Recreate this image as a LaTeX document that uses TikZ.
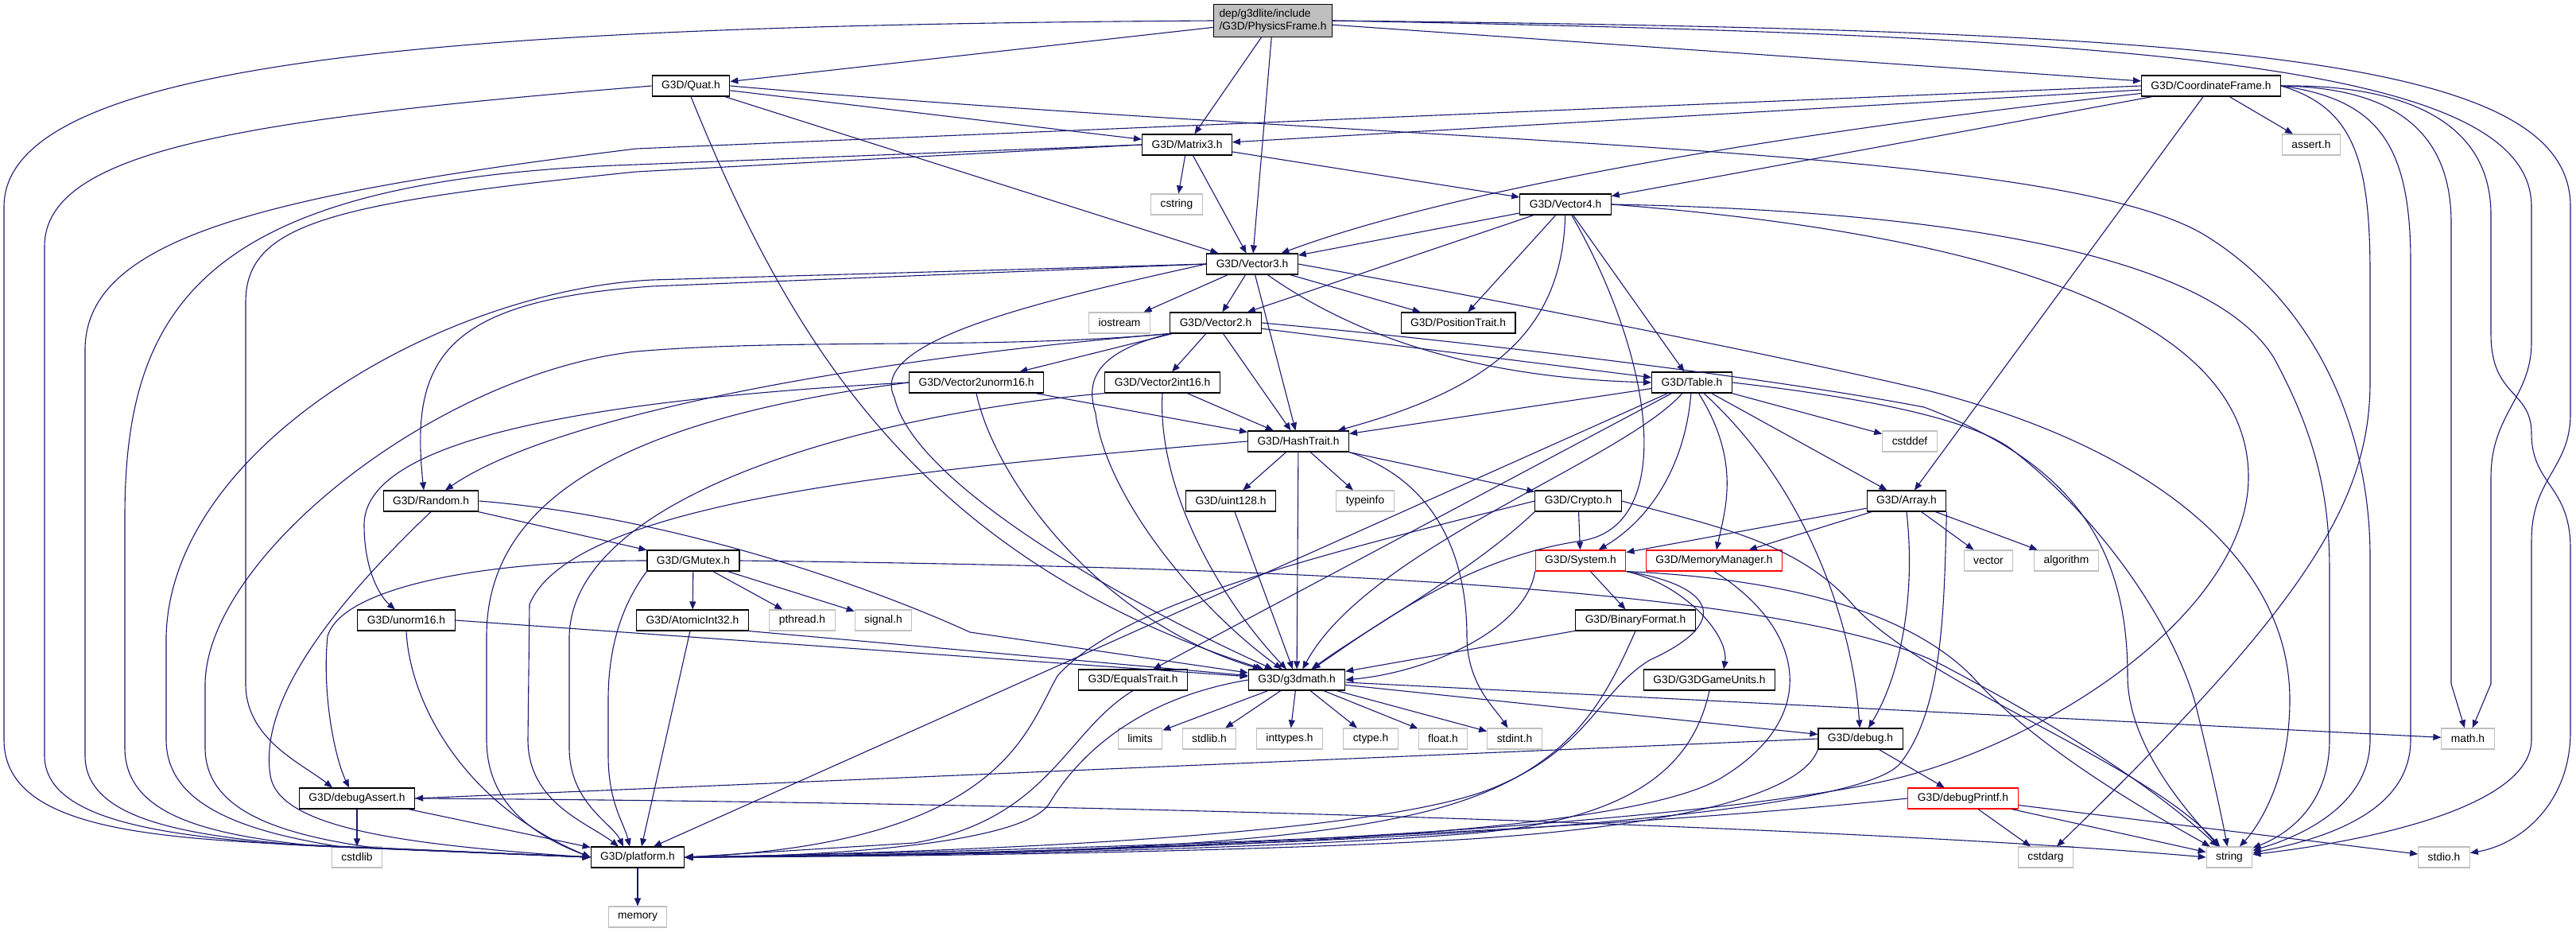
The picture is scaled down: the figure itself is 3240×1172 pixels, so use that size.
\documentclass[tikz,border=0pt]{standalone}
\usepackage{fontspec}
\setmainfont{Liberation Sans}
\usetikzlibrary{arrows.meta}
\definecolor{edgeblue}{HTML}{191970}
\definecolor{sysgray}{HTML}{BFBFBF}
\begin{document}
\begin{tikzpicture}[
    x=1pt, y=-1pt,
    file/.style={draw=black, line width=1.1pt, fill=white,
        minimum height=26pt, inner xsep=12pt, inner ysep=0pt,
        font=\fontsize{13.8}{15.5}\selectfont},
    sysfile/.style={file, draw=sysgray},
    redfile/.style={file, draw=red},
    rootfile/.style={file, fill=sysgray, align=left, minimum height=41pt, inner xsep=7pt},
    dep/.style={draw=edgeblue, line width=1.1pt, -{Triangle[length=10pt,width=8pt]}}
]
    \useasboundingbox (0,0) rectangle (3240,1172);
    \node[rootfile] (pf) at (1601,26) {dep/g3dlite/include\\/G3D/PhysicsFrame.h};
    \node[file] (quat) at (869,108) {G3D/Quat.h};
    \node[file] (coord) at (2781,108) {G3D/CoordinateFrame.h};
    \node[file] (matrix) at (1493,182) {G3D/Matrix3.h};
    \node[sysfile] (assert) at (2907,182) {assert.h};
    \node[sysfile] (cstring) at (1480,257) {cstring};
    \node[file] (vecfour) at (1969,257) {G3D/Vector4.h};
    \node[file] (vecthree) at (1575,332) {G3D/Vector3.h};
    \node[sysfile] (iostream) at (1408,406) {iostream};
    \node[file] (vectwo) at (1529,406) {G3D/Vector2.h};
    \node[file] (postrait) at (1834,406) {G3D/PositionTrait.h};
    \node[file] (vtwounorm) at (1228,481) {G3D/Vector2unorm16.h};
    \node[file] (vtwoint) at (1462,481) {G3D/Vector2int16.h};
    \node[file] (table) at (2128,481) {G3D/Table.h};
    \node[file] (hash) at (1633,555) {G3D/HashTrait.h};
    \node[sysfile] (cstddef) at (2402,555) {cstddef};
    \node[file] (random) at (542,630) {G3D/Random.h};
    \node[file] (uint) at (1548,630) {G3D/uint128.h};
    \node[sysfile] (typeinfo) at (1717,630) {typeinfo};
    \node[file] (crypto) at (1985,630) {G3D/Crypto.h};
    \node[file] (array) at (2398,630) {G3D/Array.h};
    \node[file] (gmutex) at (872,705) {G3D/GMutex.h};
    \node[redfile] (system) at (1988,705) {G3D/System.h};
    \node[redfile] (memmgr) at (2156,705) {G3D/MemoryManager.h};
    \node[sysfile] (vector) at (2501,705) {vector};
    \node[sysfile] (algorithm) at (2599,705) {algorithm};
    \node[file] (unorm) at (511,780) {G3D/unorm16.h};
    \node[file] (atomic) at (871,780) {G3D/AtomicInt32.h};
    \node[sysfile] (pthread) at (1009,780) {pthread.h};
    \node[sysfile] (signal) at (1111,780) {signal.h};
    \node[file] (binfmt) at (2057,780) {G3D/BinaryFormat.h};
    \node[file] (equals) at (1425,855) {G3D/EqualsTrait.h};
    \node[file] (g3dmath) at (1631,855) {G3D/g3dmath.h};
    \node[file] (gameunits) at (2150,855) {G3D/G3DGameUnits.h};
    \node[sysfile] (limits) at (1434,929) {limits};
    \node[sysfile] (stdlib) at (1521,929) {stdlib.h};
    \node[sysfile] (inttypes) at (1622,929) {inttypes.h};
    \node[sysfile] (ctype) at (1724,929) {ctype.h};
    \node[sysfile] (float) at (1815,929) {float.h};
    \node[sysfile] (stdint) at (1905,929) {stdint.h};
    \node[file] (debug) at (2340,929) {G3D/debug.h};
    \node[sysfile] (math) at (3104,929) {math.h};
    \node[file] (dassert) at (449,1004) {G3D/debugAssert.h};
    \node[redfile] (dprintf) at (2469,1004) {G3D/debugPrintf.h};
    \node[sysfile] (cstdlib) at (449,1078) {cstdlib};
    \node[file] (platform) at (802,1078) {G3D/platform.h};
    \node[sysfile] (cstdarg) at (2573,1078) {cstdarg};
    \node[sysfile] (string) at (2804,1078) {string};
    \node[sysfile] (stdio) at (3074,1078) {stdio.h};
    \node[sysfile] (memory) at (802,1153) {memory};
    \draw[dep] (pf) -- (quat);
    \draw[dep] (pf) -- (matrix);
    \draw[dep] (pf) -- (vecthree);
    \draw[dep] (pf) -- (coord);
    \draw[dep] (pf.west) .. controls (600,32) and (5,70) .. (5,260) -- (5,930) .. controls (5,1030) and (150,1050) .. (330,1060) -- (platform.west);
    \draw[dep] (pf.east) .. controls (2700,45) and (3184,80) .. (3184,260) -- (3184,430) .. controls (3184,500) and (3133,520) .. (3133,600) -- (3133,860) -- (math);
    \draw[dep] (pf.east) .. controls (2800,38) and (3233,70) .. (3233,260) -- (3233,520) .. controls (3233,590) and (3184,600) .. (3184,680) -- (3184,930) .. controls (3184,1010) and (3000,1055) .. (string);
    \draw[dep] (quat) -- (matrix);
    \draw[dep] (quat) -- (vecthree);
    \draw[dep] (quat.south) .. controls (990,420) and (1150,700) .. (g3dmath);
    \draw[dep] (quat.west) .. controls (300,150) and (56,190) .. (56,310) -- (56,950) .. controls (56,1030) and (200,1050) .. (360,1062) -- (platform.west);
    \draw[dep] (quat.east) .. controls (1800,185) and (2600,180) .. (2780,300) .. controls (2920,390) and (2981,550) .. (2981,700) -- (2981,930) .. controls (2981,1010) and (2900,1050) .. (string);
    \draw[dep] (matrix) -- (cstring);
    \draw[dep] (matrix) -- (vecthree);
    \draw[dep] (matrix) -- (vecfour);
    \draw[dep] (matrix.west) -- (800,207) .. controls (260,225) and (157,380) .. (157,650) -- (157,940) .. controls (157,1025) and (260,1050) .. (400,1064) -- (platform.west);
    \draw[dep] (matrix.west) -- (800,216) .. controls (420,255) and (309,280) .. (309,380) -- (309,860) .. controls (309,930) and (380,960) .. ([xshift=-31pt]dassert.north);
    \draw[dep] (coord) -- (matrix);
    \draw[dep] (coord) .. controls (2300,160) and (1850,230) .. (vecthree);
    \draw[dep] (coord) -- (vecfour);
    \draw[dep] (coord) -- (array);
    \draw[dep] (coord) -- (assert);
    \draw[dep] (coord.west) -- (800,187) .. controls (330,245) and (107,300) .. (107,440) -- (107,950) .. controls (107,1030) and (230,1050) .. (380,1063) -- (platform.west);
    \draw[dep] (coord.east) .. controls (2990,110) and (3083,150) .. (3083,280) -- (3083,860) -- (math);
    \draw[dep] (coord.east) .. controls (3000,106) and (3133,140) .. (3133,270) -- (3133,420) .. controls (3133,500) and (3184,490) .. (3184,545) .. controls (3184,610) and (3233,610) .. (3233,690) -- (3233,920) .. controls (3233,1010) and (3170,1062) .. (stdio);
    \draw[dep] (coord.east) .. controls (2990,125) and (3032,180) .. (3032,330) -- (3032,930) .. controls (3032,1010) and (2950,1050) .. (string);
    \draw[dep] (coord.east) .. controls (2960,135) and (2981,200) .. (2981,345) -- (2981,480) .. controls (2981,630) and (2900,760) .. (cstdarg);
    \draw[dep] (vecfour) -- (vecthree);
    \draw[dep] (vecfour) -- (vectwo);
    \draw[dep] (vecfour) -- (postrait);
    \draw[dep] (vecfour) -- (table);
    \draw[dep] (vecfour) .. controls (1965,420) and (1870,490) .. (hash);
    \draw[dep] (vecfour) .. controls (2080,450) and (2110,660) .. (1990,680) .. controls (1850,700) and (1740,780) .. (g3dmath);
    \draw[dep] (vecfour.east) .. controls (2450,265) and (2780,320) .. (2860,450) .. controls (2920,560) and (2930,640) .. (2930,720) -- (2930,930) .. controls (2930,1010) and (2880,1048) .. (string);
    \draw[dep] (vecfour.east) .. controls (2450,290) and (2828,380) .. (2828,600) .. controls (2828,760) and (2600,920) .. (2400,975) .. controls (2200,1030) and (1500,1075) .. (platform.east);
    \draw[dep] (vecthree) -- (iostream);
    \draw[dep] (vecthree) -- (vectwo);
    \draw[dep] (vecthree) -- (postrait);
    \draw[dep] (vecthree) -- (hash);
    \draw[dep] (vecthree) .. controls (1700,420) and (1850,475) .. (table.west);
    \draw[dep] (vecthree.west) .. controls (1300,380) and (1090,430) .. (1125,500) .. controls (1150,610) and (1420,760) .. (g3dmath);
    \draw[dep] (vecthree.west) -- (820,352) .. controls (560,365) and (215,560) .. (209,800) -- (209,930) .. controls (209,1010) and (300,1045) .. (430,1065) -- (platform.west);
    \draw[dep] (vecthree.west) -- (820,360) .. controls (560,378) and (515,450) .. ([xshift=-9pt]random.north);
    \draw[dep] (vecthree.east) .. controls (1900,380) and (2250,450) .. (2420,490) .. controls (2700,560) and (2880,700) .. (2880,880) .. controls (2880,980) and (2840,1040) .. (string);
    \draw[dep] (vectwo) -- (table);
    \draw[dep] (vectwo) -- (hash);
    \draw[dep] (vectwo) -- (vtwoint);
    \draw[dep] (vectwo) -- (vtwounorm);
    \draw[dep] (vectwo.south west) .. controls (1390,440) and (1362,470) .. (1378,520) .. controls (1390,620) and (1500,760) .. (g3dmath);
    \draw[dep] (vectwo.south west) .. controls (1100,450) and (700,520) .. ([xshift=18pt]random.north);
    \draw[dep] (vectwo.south west) .. controls (1250,440) and (1000,425) .. (800,442) .. controls (550,470) and (260,700) .. (258,860) -- (258,940) .. controls (258,1015) and (340,1048) .. (470,1066) -- (platform.west);
    \draw[dep] (vectwo.east) .. controls (1800,425) and (2200,470) .. (2420,512) .. controls (2600,580) and (2676,680) .. (2676,850) .. controls (2676,930) and (2740,1010) .. (string);
    \draw[dep] (vtwoint) -- (hash);
    \draw[dep] (vtwoint.south) .. controls (1455,620) and (1540,760) .. (g3dmath);
    \draw[dep] (vtwoint.south west) .. controls (1100,520) and (720,620) .. (716,800) -- (716,940) .. controls (716,1010) and (770,1035) .. ([xshift=-18pt]platform.north);
    \draw[dep] (vtwounorm) -- (hash);
    \draw[dep] (vtwounorm.south) .. controls (1250,600) and (1380,780) .. (g3dmath);
    \draw[dep] (vtwounorm.west) .. controls (700,505) and (458,560) .. (458,660) .. controls (458,720) and (480,752) .. ([xshift=-14pt]unorm.north);
    \draw[dep] (vtwounorm.west) .. controls (760,530) and (612,640) .. (612,800) -- (612,930) .. controls (612,1010) and (670,1050) .. (platform.west);
    \draw[dep] (hash) -- (uint);
    \draw[dep] (hash) -- (typeinfo);
    \draw[dep] (hash) -- (crypto);
    \draw[dep] (hash) -- (g3dmath);
    \draw[dep] (hash.south east) .. controls (1820,610) and (1845,720) .. (1845,800) .. controls (1845,860) and (1880,890) .. (stdint);
    \draw[dep] (hash.west) .. controls (1150,590) and (720,630) .. (666,760) -- (664,930) .. controls (664,1010) and (740,1035) .. ([xshift=-24pt]platform.north);
    \draw[dep] (uint) -- (g3dmath);
    \draw[dep] (crypto) -- (system);
    \draw[dep] (crypto.south west) .. controls (1850,720) and (1720,790) .. (g3dmath);
    \draw[dep] (crypto.west) .. controls (1650,700) and (1410,760) .. (1330,850) .. controls (1290,920) and (1260,1060) .. (platform.east);
    \draw[dep] (crypto.east) .. controls (2150,660) and (2260,680) .. (2330,760) .. controls (2420,860) and (2700,960) .. (string);
    \draw[dep] (array) -- (vector);
    \draw[dep] (array) -- (algorithm);
    \draw[dep] (array) -- (memmgr);
    \draw[dep] (array) -- (system);
    \draw[dep] (array.south) .. controls (2410,750) and (2390,850) .. ([xshift=10pt]debug.north);
    \draw[dep] (array.south east) .. controls (2445,760) and (2445,890) .. (2390,960) .. controls (2330,1030) and (1700,1068) .. (platform.east);
    \draw[dep] (table) -- (hash);
    \draw[dep] (table) -- (cstddef);
    \draw[dep] (table) -- (array);
    \draw[dep] (table) -- (equals);
    \draw[dep] (table) -- ([xshift=20pt]platform.north);
    \draw[dep] (table) .. controls (2120,580) and (2080,650) .. (system);
    \draw[dep] (table) .. controls (2190,580) and (2170,640) .. (memmgr);
    \draw[dep] (table) .. controls (2270,610) and (2330,780) .. (debug);
    \draw[dep] (table) .. controls (2040,580) and (1720,690) .. (g3dmath);
    \draw[dep] (table.east) .. controls (2300,495) and (2470,520) .. (2530,565) .. controls (2640,650) and (2730,780) .. (2760,880) .. controls (2780,960) and (2795,1030) .. (string);
    \draw[dep] (random) -- (gmutex);
    \draw[dep] (random.south) .. controls (420,760) and (325,880) .. (340,975) .. controls (350,1040) and (500,1062) .. (platform.west);
    \draw[dep] (random.east) .. controls (850,650) and (1100,740) .. (1220,795) -- (g3dmath);
    \draw[dep] (gmutex) -- (atomic);
    \draw[dep] (gmutex) -- (pthread);
    \draw[dep] (gmutex) -- (signal);
    \draw[dep] (gmutex.west) .. controls (600,705) and (430,740) .. (412,800) .. controls (405,870) and (420,950) .. ([xshift=-10pt]dassert.north);
    \draw[dep] (gmutex.south west) .. controls (790,750) and (765,800) .. (765,880) -- (765,950) .. controls (765,1010) and (785,1035) .. ([xshift=-10pt]platform.north);
    \draw[dep] (gmutex.east) .. controls (1500,712) and (2250,730) .. (2450,840) .. controls (2620,930) and (2720,1000) .. (string);
    \draw[dep] (atomic) -- ([xshift=5pt]platform.north);
    \draw[dep] (atomic.south east) -- (g3dmath);
    \draw[dep] (unorm.east) -- (g3dmath);
    \draw[dep] (unorm.south) .. controls (515,880) and (580,1010) .. (platform.west);
    \draw[dep] (system) -- (binfmt);
    \draw[dep] (system.south east) .. controls (2120,735) and (2175,800) .. ([xshift=18pt]gameunits.north);
    \draw[dep] (system.south west) .. controls (1920,790) and (1800,845) .. (g3dmath.east);
    \draw[dep] (system.south east) .. controls (2250,728) and (2400,770) .. (2480,850) .. controls (2560,940) and (2700,1020) .. (string);
    \draw[dep] (system.south east) .. controls (2150,735) and (2185,780) .. (2075,830) .. controls (2010,870) and (2000,940) .. (1880,990) .. controls (1750,1045) and (1300,1070) .. (platform.east);
    \draw[dep] (memmgr.south) .. controls (2270,790) and (2290,900) .. (2170,975) .. controls (2060,1050) and (1500,1072) .. (platform.east);
    \draw[dep] (binfmt) -- (g3dmath);
    \draw[dep] (binfmt.south) .. controls (2010,900) and (1960,990) .. (1750,1030) .. controls (1550,1070) and (1200,1075) .. (platform.east);
    \draw[dep] (gameunits.south) .. controls (2130,960) and (2060,1030) .. (1850,1048) .. controls (1600,1068) and (1200,1076) .. (platform.east);
    \draw[dep] (equals.south) .. controls (1340,920) and (1320,1030) .. (1150,1060) -- (platform.east);
    \draw[dep] (g3dmath.west) .. controls (1420,880) and (1350,960) .. (1320,1010) .. controls (1290,1060) and (1050,1077) .. (platform.east);
    \draw[dep] (g3dmath) -- (limits);
    \draw[dep] (g3dmath) -- (stdlib);
    \draw[dep] (g3dmath) -- (inttypes);
    \draw[dep] (g3dmath) -- (ctype);
    \draw[dep] (g3dmath) -- (float);
    \draw[dep] (g3dmath) -- (stdint);
    \draw[dep] (g3dmath) -- (debug);
    \draw[dep] (g3dmath) -- (math);
    \draw[dep] (debug.west) -- (dassert.east);
    \draw[dep] (debug) -- (dprintf);
    \draw[dep] (debug.south west) .. controls (2270,990) and (2150,1035) .. (1850,1055) .. controls (1600,1070) and (1200,1077) .. (platform.east);
    \draw[dep] (dassert) -- (cstdlib);
    \draw[dep] (dassert) -- (platform);
    \draw[dep] (dassert.east) .. controls (1500,1010) and (2400,1045) .. (string.west);
    \draw[dep] (dprintf) -- (cstdarg);
    \draw[dep] (dprintf) -- (string);
    \draw[dep] (dprintf) -- (stdio);
    \draw[dep] (dprintf.west) .. controls (2150,1030) and (1700,1062) .. (platform.east);
    \draw[dep] (platform) -- (memory);
\end{tikzpicture}
\end{document}
